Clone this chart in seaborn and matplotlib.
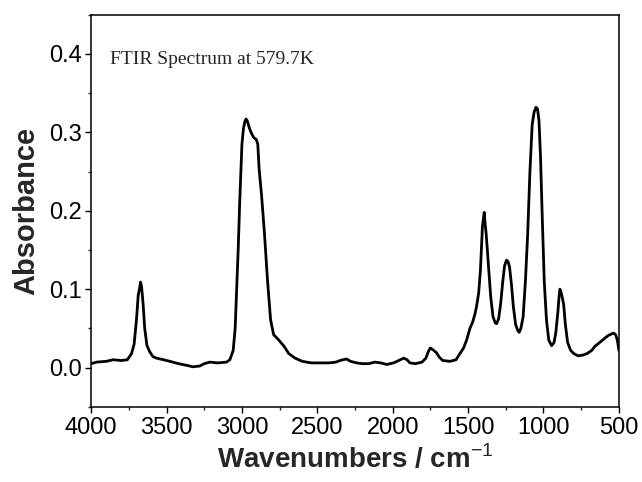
import matplotlib
matplotlib.use("Agg")
import matplotlib.pyplot as plt
import seaborn as sns
import pandas as pd
from matplotlib.ticker import MultipleLocator

wavenumber = [4000, 3964, 3900, 3854, 3800, 3760, 3732, 3715, 3700, 3688, 3680, 3672,
              3665, 3655, 3645, 3630, 3611, 3590, 3566, 3520, 3478, 3420, 3370, 3325,
              3280, 3250, 3213, 3160, 3102, 3080, 3058, 3045, 3033, 3025, 3015, 3000,
              2990, 2980, 2973, 2965, 2950, 2935, 2920, 2905, 2895, 2886, 2870, 2851,
              2830, 2810, 2790, 2755, 2720, 2690, 2647, 2600, 2540, 2480, 2420, 2376,
              2350, 2330, 2307, 2280, 2240, 2200, 2158, 2120, 2080, 2040, 1994, 1960,
              1927, 1905, 1886, 1850, 1806, 1780, 1765, 1751, 1735, 1710, 1690, 1668,
              1620, 1580, 1554, 1530, 1510, 1488, 1470, 1455, 1444, 1430, 1418, 1405,
              1398, 1393, 1388, 1380, 1365, 1350, 1335, 1320, 1311, 1298, 1285, 1270,
              1258, 1245, 1235, 1225, 1212, 1200, 1185, 1170, 1161, 1150, 1135, 1120,
              1105, 1090, 1075, 1062, 1050, 1040, 1030, 1020, 1008, 995, 980, 965,
              946, 930, 918, 905, 896, 891, 885, 876, 866, 855, 840, 820, 800,
              770, 738, 710, 680, 660, 640, 615, 590, 570, 548, 535, 522, 510, 500]
absorbance = [0.005, 0.007, 0.008, 0.010, 0.009, 0.010, 0.018, 0.030, 0.060, 0.092, 0.100, 0.109,
              0.102, 0.080, 0.050, 0.028, 0.020, 0.014, 0.012, 0.010, 0.008, 0.005, 0.003, 0.001,
              0.002, 0.005, 0.007, 0.006, 0.007, 0.010, 0.022, 0.050, 0.110, 0.150, 0.210, 0.285,
              0.305, 0.314, 0.317, 0.315, 0.305, 0.298, 0.293, 0.291, 0.285, 0.253, 0.220, 0.172,
              0.110, 0.061, 0.042, 0.035, 0.027, 0.018, 0.012, 0.008, 0.006, 0.006, 0.006, 0.007,
              0.009, 0.010, 0.011, 0.008, 0.006, 0.005, 0.005, 0.007, 0.006, 0.004, 0.006, 0.009,
              0.012, 0.010, 0.006, 0.005, 0.007, 0.012, 0.020, 0.025, 0.023, 0.019, 0.013, 0.009,
              0.008, 0.010, 0.018, 0.025, 0.035, 0.050, 0.058, 0.068, 0.078, 0.095, 0.125, 0.180,
              0.190, 0.198, 0.185, 0.170, 0.130, 0.090, 0.065, 0.057, 0.056, 0.062, 0.080, 0.110,
              0.130, 0.137, 0.135, 0.128, 0.105, 0.078, 0.055, 0.047, 0.045, 0.050, 0.065, 0.110,
              0.170, 0.250, 0.310, 0.326, 0.332, 0.330, 0.315, 0.270, 0.190, 0.110, 0.060, 0.035,
              0.028, 0.032, 0.045, 0.070, 0.092, 0.100, 0.097, 0.090, 0.080, 0.055, 0.032, 0.022, 0.018,
              0.015, 0.016, 0.018, 0.022, 0.027, 0.030, 0.034, 0.038, 0.041, 0.043, 0.044, 0.042, 0.035, 0.022]

annotation = "FTIR Spectrum at 579.7K"
x_label = "Wavenumbers / cm$^{-1}$"
y_label = "Absorbance"

df = pd.DataFrame({"wavenumber": wavenumber, "absorbance": absorbance})

sns.set_style("ticks")
plt.rcParams["font.family"] = ["Liberation Sans", "DejaVu Sans"]
plt.rcParams["mathtext.fontset"] = "custom"
plt.rcParams["mathtext.bf"] = "Liberation Sans:bold"
plt.rcParams["mathtext.rm"] = "Liberation Sans"

fig = plt.figure(figsize=(6.42, 4.82), dpi=100)
ax = fig.add_axes([0.142, 0.156, 0.822, 0.8135])

sns.lineplot(data=df, x="wavenumber", y="absorbance", sort=False, color="black",
             linewidth=2.0, ax=ax, estimator=None)

ax.set_xlim(4000, 500)
ax.set_ylim(-0.05, 0.45)
ax.xaxis.set_major_locator(MultipleLocator(500))
ax.xaxis.set_minor_locator(MultipleLocator(250))
ax.yaxis.set_major_locator(MultipleLocator(0.1))
ax.yaxis.set_minor_locator(MultipleLocator(0.05))
ax.set_yticks([0.0, 0.1, 0.2, 0.3, 0.4])
ax.set_yticklabels(["0.0", "0.1", "0.2", "0.3", "0.4"])
ax.tick_params(axis="both", which="major", direction="out", length=4, width=1,
               labelsize=17, colors="black", pad=3)
ax.tick_params(axis="both", which="minor", direction="out", length=2.5, width=1)
for s in ax.spines.values():
    s.set_linewidth(1.1)
    s.set_color("black")

ax.set_xlabel(x_label, fontsize=20, fontweight="bold", labelpad=4)
ax.set_ylabel(y_label, fontsize=21, fontweight="bold", labelpad=6)

ax.text(0.035, 0.885, annotation, transform=ax.transAxes, fontsize=14,
        family=["Liberation Serif", "DejaVu Serif"], va="center", ha="left")

fig.savefig("out.png", dpi=100)
